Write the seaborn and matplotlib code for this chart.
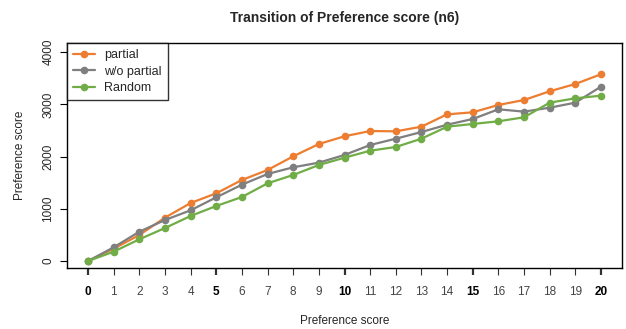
import matplotlib
matplotlib.use("Agg")
import matplotlib.pyplot as plt
import seaborn as sns
import pandas as pd

steps = list(range(21))
partial = [0, 236, 498, 830, 1111, 1297, 1552, 1743, 2005, 2241, 2389,
           2490, 2484, 2573, 2810, 2848, 2989, 3084, 3251, 3391, 3577]
wo_partial = [0, 262, 561, 785, 971, 1220, 1462, 1667, 1795, 1884, 2031,
              2222, 2343, 2471, 2611, 2720, 2906, 2861, 2937, 3033, 3340]
random_sel = [0, 178, 416, 632, 862, 1054, 1226, 1488, 1648, 1839, 1979,
              2113, 2184, 2343, 2573, 2625, 2676, 2753, 3033, 3117, 3167]
series_names = ["partial", "w/o partial", "Random"]
colors = ["#ED7D31", "#7F7F7F", "#70AD47"]
y_ticks = [0, 1000, 2000, 3000, 4000]

df = pd.DataFrame({
    "step": steps * 3,
    "score": partial + wo_partial + random_sel,
    "method": [series_names[0]] * 21 + [series_names[1]] * 21 + [series_names[2]] * 21,
})

sns.set_style("white")
plt.rcParams["font.family"] = ["Liberation Sans", "DejaVu Sans"]

fig = plt.figure(figsize=(6.26, 3.29), dpi=100)
ax = fig.add_axes([67 / 626, 1 - 268 / 329, (622 - 67) / 626, (268 - 43) / 329])

sns.lineplot(data=df, x="step", y="score", hue="method", hue_order=series_names,
             palette=colors, marker="o", markersize=5.5, markeredgewidth=0,
             linewidth=1.6, ax=ax)

ax.set_xlim(-0.82, 20.82)
ax.set_ylim(-134, 4176)
for s in ax.spines.values():
    s.set_color("black")
    s.set_linewidth(1.0)

ax.set_xticks(steps)
ax.set_xticklabels([str(s) for s in steps])
for s, lbl in zip(steps, ax.get_xticklabels()):
    if s % 5 == 0:
        lbl.set_fontweight("bold")
        lbl.set_color("black")
    else:
        lbl.set_color("#444444")
ax.tick_params(axis="x", length=5, width=0.8, pad=8, labelsize=8.5, bottom=True,
               color="#333333")
for s, t in zip(steps, ax.xaxis.get_major_ticks()):
    if s % 5 == 0:
        t.tick1line.set_markeredgewidth(1.6)
        t.tick1line.set_color("black")

ax.set_yticks(y_ticks)
ax.set_yticklabels([str(v) for v in y_ticks], rotation=90, va="center")
ax.tick_params(axis="y", length=5, width=0.8, pad=4, labelsize=8.5, left=True,
               color="black")

ax.set_xlabel("Preference score", fontsize=8.5, labelpad=12)
ax.set_ylabel("Preference score", fontsize=8.5, labelpad=12)
ax.set_title("Transition of Preference score (n6)", fontsize=10,
             fontweight="bold", pad=15)

leg = ax.legend(loc="upper left", borderaxespad=0, frameon=True, fancybox=False,
                fontsize=9, handlelength=1.7, handletextpad=0.75,
                labelspacing=0.35, borderpad=0.5)
leg.get_frame().set_edgecolor("black")
leg.get_frame().set_linewidth(1.0)
leg.set_title(None)

fig.savefig("out.png", dpi=100)
